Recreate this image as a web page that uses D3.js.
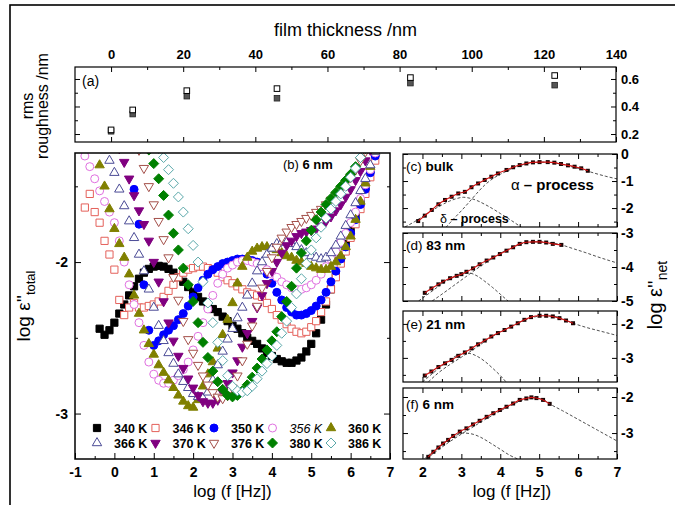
<!DOCTYPE html>
<html>
<head>
<meta charset="utf-8">
<script src="https://cdn.jsdelivr.net/npm/d3@7/dist/d3.min.js"></script>
<style>
html,body{margin:0;padding:0;background:#fff;}
svg{display:block;}
</style>
</head>
<body>
<svg id="chart" width="675" height="505"></svg>
<script>
// ================= DATA =================
// (a) rms roughness vs film thickness
const thicknessNm     = [0, 6, 21, 46, 83, 123];
const roughnessOpen   = [0.23, 0.375, 0.515, 0.53, 0.61, 0.625];
const roughnessFilled = [0.22, 0.345, 0.475, 0.46, 0.57, 0.555];
const thicknessTicks  = [0, 20, 40, 60, 80, 100, 120, 140];
const roughnessTicks  = [0.2, 0.4, 0.6];

// (b) log eps''_total vs log f, 6 nm film (series aligned to the END of logFreq)
const logFreq = [-0.75,-0.625,-0.5,-0.375,-0.25,-0.125,0,0.125,0.25,0.375,0.5,0.625,0.75,0.875,1,1.125,1.25,1.375,1.5,1.625,1.75,1.875,2,2.125,2.25,2.375,2.5,2.625,2.75,2.875,3,3.125,3.25,3.375,3.5,3.625,3.75,3.875,4,4.125,4.25,4.375,4.5,4.625,4.75,4.875,5,5.125,5.25,5.375,5.5,5.625,5.75,5.875,6,6.125,6.25,6.375,6.5,6.625];
const tempLabels = ["340 K","346 K","350 K","356 K","360 K","366 K","370 K","376 K","380 K","386 K"];
const eps340 = [-2.44,-2.48,-2.45,-2.40,-2.34,-2.28,-2.22,-2.16,-2.11,-2.07,-2.045,-2.03,-2.025,-2.03,-2.045,-2.07,-2.10,-2.13,-2.165,-2.20,-2.23,-2.26,-2.29,-2.31,-2.33,-2.36,-2.39,-2.42,-2.44,-2.47,-2.50,-2.52,-2.54,-2.57,-2.60,-2.62,-2.64,-2.655,-2.665,-2.665,-2.65,-2.63,-2.59,-2.54,-2.47,-2.38,-2.28,-2.18,-2.08,-1.98,-1.88,-1.79,-1.70,-1.60,-1.50,-1.39,-1.28];
const eps346 = [-1.64,-1.55,-1.67,-1.74,-1.86,-1.95,-2.05,-2.25,-2.35,-2.30,-2.27,-2.30,-2.30,-2.29,-2.28,-2.26,-2.23,-2.19,-2.15,-2.10,-2.07,-2.05,-2.04,-2.03,-2.03,-2.04,-2.05,-2.07,-2.10,-2.12,-2.14,-2.16,-2.18,-2.20,-2.21,-2.22,-2.23,-2.27,-2.31,-2.35,-2.38,-2.41,-2.44,-2.46,-2.47,-2.46,-2.43,-2.39,-2.33,-2.26,-2.18,-2.10,-2.01,-1.93,-1.84,-1.75,-1.65,-1.55,-1.44,-1.33];
const eps350 = [-1.52,-1.75,-2.15,-2.45,-2.55,-2.52,-2.48,-2.45,-2.42,-2.38,-2.34,-2.29,-2.23,-2.17,-2.12,-2.08,-2.05,-2.03,-2.01,-2.00,-1.99,-1.98,-1.98,-1.98,-1.99,-2.00,-2.03,-2.08,-2.14,-2.20,-2.25,-2.30,-2.33,-2.35,-2.35,-2.34,-2.32,-2.29,-2.25,-2.20,-2.13,-2.06,-1.98,-1.90,-1.81,-1.72,-1.62,-1.52,-1.41,-1.30];
const eps356 = [-1.30,-1.37,-1.45,-1.53,-1.60,-1.67,-1.74,-1.86,-2.00,-2.15,-2.28,-2.40,-2.55,-2.66,-2.74,-2.78,-2.80,-2.80,-2.78,-2.75,-2.71,-2.66,-2.58,-2.49,-2.40,-2.31,-2.22,-2.14,-2.08,-2.04,-2.02,-2.00,-1.99,-1.99,-2.00,-2.01,-2.03,-2.05,-2.08,-2.10,-2.13,-2.15,-2.17,-2.18,-2.18,-2.17,-2.15,-2.12,-2.08,-2.03,-1.98,-1.93,-1.87,-1.81,-1.74,-1.67,-1.58,-1.49,-1.39,-1.28];
const eps360 = [-1.25,-1.36,-1.50,-1.65,-1.78,-1.88,-1.97,-2.08,-2.22,-2.34,-2.45,-2.54,-2.61,-2.68,-2.73,-2.78,-2.83,-2.88,-2.92,-2.95,-2.96,-2.91,-2.82,-2.74,-2.66,-2.57,-2.48,-2.38,-2.27,-2.14,-2.03,-1.97,-1.93,-1.91,-1.90,-1.90,-1.91,-1.92,-1.94,-1.96,-1.97,-1.99,-2.00,-2.01,-2.03,-2.04,-2.05,-2.05,-2.03,-2.00,-1.96,-1.90,-1.83,-1.72,-1.60,-1.48,-1.37,-1.27];
const eps366 = [-1.26,-1.33,-1.41,-1.52,-1.63,-1.73,-1.84,-1.95,-2.06,-2.18,-2.30,-2.42,-2.52,-2.60,-2.67,-2.74,-2.79,-2.83,-2.87,-2.89,-2.90,-2.86,-2.78,-2.68,-2.59,-2.51,-2.44,-2.37,-2.30,-2.22,-2.14,-2.06,-2.00,-1.95,-1.91,-1.88,-1.87,-1.87,-1.88,-1.90,-1.92,-1.94,-1.96,-1.97,-1.98,-1.97,-1.94,-1.89,-1.83,-1.76,-1.69,-1.61,-1.53,-1.45,-1.36,-1.27];
const eps370 = [-1.25,-1.34,-1.45,-1.56,-1.66,-1.75,-1.86,-2.00,-2.13,-2.26,-2.40,-2.52,-2.62,-2.70,-2.77,-2.83,-2.88,-2.92,-2.93,-2.93,-2.91,-2.86,-2.80,-2.73,-2.65,-2.56,-2.47,-2.39,-2.30,-2.22,-2.14,-2.06,-2.00,-1.94,-1.89,-1.86,-1.83,-1.81,-1.80,-1.79,-1.78,-1.76,-1.73,-1.70,-1.66,-1.62,-1.57,-1.52,-1.46,-1.40,-1.33,-1.26,-1.19];
const eps376 = [-1.18,-1.26,-1.38,-1.50,-1.62,-1.73,-1.85,-1.97,-2.10,-2.25,-2.39,-2.51,-2.60,-2.68,-2.75,-2.81,-2.86,-2.89,-2.90,-2.88,-2.83,-2.75,-2.65,-2.54,-2.42,-2.29,-2.17,-2.06,-1.97,-1.90,-1.84,-1.80,-1.77,-1.75,-1.73,-1.71,-1.69,-1.67,-1.65,-1.62,-1.59,-1.56,-1.52,-1.48,-1.44,-1.39,-1.33,-1.27,-1.21,-1.15];
const eps380 = [-1.26,-1.35,-1.45,-1.56,-1.69,-1.81,-1.92,-2.04,-2.15,-2.26,-2.40,-2.53,-2.63,-2.72,-2.79,-2.84,-2.88,-2.89,-2.88,-2.85,-2.81,-2.76,-2.70,-2.64,-2.58,-2.52,-2.46,-2.36,-2.26,-2.16,-2.04,-1.94,-1.86,-1.79,-1.72,-1.67,-1.62,-1.58,-1.54,-1.50,-1.46,-1.42,-1.37,-1.31,-1.25,-1.19,-1.13];
const eps386 = [-1.25,-1.31,-1.39,-1.48,-1.57,-1.67,-1.78,-1.89,-2.00,-2.13,-2.27,-2.40,-2.53,-2.65,-2.75,-2.82,-2.85,-2.86,-2.85,-2.82,-2.77,-2.72,-2.67,-2.62,-2.55,-2.47,-2.39,-2.30,-2.21,-2.11,-2.01,-1.92,-1.84,-1.77,-1.71,-1.65,-1.60,-1.55,-1.50,-1.44,-1.38,-1.31,-1.24,-1.18,-1.12];
const mainXTicks = [-1, 0, 1, 2, 3, 4, 5, 6, 7];
const mainYTicks = [-2, -3];

// (c)-(f) log eps''_net : data, delta-process and alpha-process components
const cLogf  = [1.89,2.06,2.24,2.41,2.58,2.75,2.92,3.09,3.26,3.43,3.6,3.77,3.94,4.16,4.33,4.5,4.67,4.84,5.01,5.22,5.39,5.56,5.74,5.91,6.08,6.25];
const cNet   = [-2.48,-2.28,-2.07,-1.86,-1.7,-1.58,-1.46,-1.4,-1.23,-1.09,-0.96,-0.84,-0.72,-0.59,-0.49,-0.41,-0.35,-0.31,-0.3,-0.3,-0.32,-0.37,-0.42,-0.47,-0.53,-0.62];
const cDeltaX = [1.55,1.8,2.1,2.4,2.7,2.9,3.05,3.2,3.4,3.6,3.8,4.0,4.2,4.4,4.55];
const cDeltaY = [-2.7,-2.5,-2.22,-1.96,-1.74,-1.64,-1.6,-1.63,-1.72,-1.86,-2.02,-2.2,-2.38,-2.57,-2.72];
const cAlphaX = [2.6,2.8,3.0,3.2,3.4,3.6,3.8,4.0,4.3,4.6,4.9,5.2,5.5,5.8,6.1,6.4,6.7,7.0];
const cAlphaY = [-2.72,-2.4,-2.1,-1.78,-1.45,-1.15,-0.92,-0.75,-0.55,-0.39,-0.31,-0.3,-0.36,-0.46,-0.57,-0.7,-0.82,-0.92];

const dLogf  = [2.06,2.23,2.41,2.53,2.71,2.88,3.0,3.13,3.3,3.47,3.65,3.82,3.99,4.16,4.33,4.5,4.67,4.84,5.01,5.18,5.35,5.57];
const dNet   = [-4.76,-4.63,-4.51,-4.43,-4.33,-4.26,-4.21,-4.14,-4.04,-3.92,-3.81,-3.72,-3.62,-3.52,-3.42,-3.32,-3.27,-3.26,-3.26,-3.28,-3.32,-3.35];
const dDeltaX = [1.9,2.2,2.5,2.8,3.0,3.2,3.4,3.6,3.8,4.0,4.2];
const dDeltaY = [-5.0,-4.75,-4.5,-4.3,-4.21,-4.18,-4.26,-4.42,-4.6,-4.8,-5.0];
const dAlphaX = [2.25,2.5,2.8,3.1,3.4,3.7,4.0,4.3,4.6,4.9,5.2,5.57,5.9,6.2,6.5,6.8,7.0];
const dAlphaY = [-5.0,-4.8,-4.55,-4.3,-4.05,-3.82,-3.6,-3.43,-3.3,-3.26,-3.27,-3.35,-3.47,-3.58,-3.7,-3.81,-3.88];

const eLogf  = [2.06,2.23,2.41,2.58,2.75,2.92,3.09,3.26,3.43,3.6,3.77,3.94,4.11,4.28,4.45,4.62,4.79,5.01,5.18,5.35,5.52,5.69,5.87];
const eNet   = [-3.52,-3.4,-3.27,-3.16,-3.06,-2.94,-2.84,-2.72,-2.6,-2.49,-2.37,-2.27,-2.18,-2.08,-1.98,-1.88,-1.8,-1.76,-1.76,-1.78,-1.83,-1.9,-1.98];
const eDeltaX = [2.0,2.3,2.6,2.85,3.05,3.2,3.4,3.6,3.8,4.0,4.15];
const eDeltaY = [-3.71,-3.42,-3.14,-2.95,-2.87,-2.87,-2.95,-3.1,-3.3,-3.52,-3.71];
const eAlphaX = [2.15,2.4,2.7,3.0,3.3,3.6,3.9,4.2,4.5,4.8,5.1,5.4,5.87,6.2,6.6,7.0];
const eAlphaY = [-3.71,-3.45,-3.2,-2.98,-2.76,-2.52,-2.3,-2.12,-1.95,-1.82,-1.76,-1.78,-1.98,-2.1,-2.22,-2.34];

const fLogf  = [2.15,2.28,2.41,2.53,2.66,2.79,2.96,3.13,3.3,3.47,3.65,3.82,3.99,4.16,4.33,4.5,4.67,4.8,4.93,5.1,5.27];
const fNet   = [-3.66,-3.52,-3.4,-3.29,-3.19,-3.08,-2.96,-2.87,-2.76,-2.66,-2.55,-2.45,-2.36,-2.27,-2.18,-2.08,-2.04,-2.01,-2.03,-2.08,-2.19];
const fDeltaX = [2.05,2.3,2.6,2.85,3.05,3.25,3.5,3.75,4.0,4.25,4.45];
const fDeltaY = [-3.72,-3.48,-3.24,-3.07,-3.0,-3.02,-3.12,-3.28,-3.45,-3.62,-3.72];
const fAlphaX = [2.1,2.4,2.7,3.0,3.3,3.6,3.9,4.2,4.5,4.8,5.1,5.27,5.6,5.9,6.2,6.5,6.8,7.0];
const fAlphaY = [-3.72,-3.47,-3.24,-3.03,-2.83,-2.63,-2.45,-2.27,-2.12,-2.02,-2.07,-2.19,-2.38,-2.56,-2.74,-2.92,-3.1,-3.22];
const netXTicks = [2, 3, 4, 5, 6, 7];

// ================= DRAWING =================
const FONT = "'Liberation Sans', Arial, Helvetica, sans-serif";
const svg = d3.select("#chart");
svg.append("rect").attr("width", 675).attr("height", 505).attr("fill", "#fff");
svg.append("rect").attr("x", 10).attr("y", 5).attr("width", 700).attr("height", 540)
  .attr("fill", "none").attr("stroke", "#000").attr("stroke-width", 1.6);

function addAxis(orient, scale, pos, values, size, showLabels, fmt, pad, fs) {
  const make = {bottom: d3.axisBottom, top: d3.axisTop, left: d3.axisLeft, right: d3.axisRight}[orient];
  const gen = make(scale).tickValues(values).tickSizeInner(-size).tickSizeOuter(0)
    .tickPadding(pad || 5).tickFormat(showLabels ? fmt : () => "");
  const g = svg.append("g")
    .attr("transform", (orient === "bottom" || orient === "top") ? `translate(0,${pos})` : `translate(${pos},0)`)
    .call(gen);
  g.select(".domain").remove();
  g.selectAll(".tick line").attr("stroke", "#000").attr("stroke-width", 1);
  g.selectAll(".tick text").attr("font-family", FONT).attr("font-size", fs || 14)
    .attr("font-weight", "bold").attr("fill", "#000");
  return g;
}
function box(x0, y0, x1, y1, w) {
  svg.append("rect").attr("x", x0).attr("y", y0).attr("width", x1 - x0).attr("height", y1 - y0)
    .attr("fill", "none").attr("stroke", "#000").attr("stroke-width", w || 1.2);
}
function clip(id, x0, y0, x1, y1) {
  svg.append("clipPath").attr("id", id).append("rect")
    .attr("x", x0).attr("y", y0).attr("width", x1 - x0).attr("height", y1 - y0);
  return "url(#" + id + ")";
}
const fmtPlain = d => String(d);

// ---------- panel (a) ----------
const A = {x0: 75, x1: 616, y0: 67, y1: 142};
const xA = d3.scaleLinear().domain([-10, 140]).range([A.x0, A.x1]);
const yA = d3.scaleLinear().domain([0.142, 0.687]).range([A.y1, A.y0]);
const minorThick = d3.range(10, 140, 20);
addAxis("top", xA, A.y0, thicknessTicks, 5, true, fmtPlain, 8, 13);
addAxis("top", xA, A.y0, minorThick, 3, false);
addAxis("bottom", xA, A.y1, thicknessTicks, 5, false);
addAxis("bottom", xA, A.y1, minorThick, 3, false);
addAxis("left", yA, A.x0, roughnessTicks, 5, false);
addAxis("left", yA, A.x0, [0.3, 0.5], 3, false);
addAxis("right", yA, A.x1, roughnessTicks, 5, true, d3.format(".1f"), 5, 13);
addAxis("right", yA, A.x1, [0.3, 0.5], 3, false);
svg.append("g").selectAll("rect").data(thicknessNm.map((t, i) => [t, roughnessFilled[i]])).join("rect")
  .attr("x", d => xA(d[0]) - 2.8).attr("y", d => yA(d[1]) - 2.8).attr("width", 5.6).attr("height", 5.6)
  .attr("fill", "#555").attr("stroke", "#222").attr("stroke-width", 0.8);
svg.append("g").selectAll("rect").data(thicknessNm.map((t, i) => [t, roughnessOpen[i]])).join("rect")
  .attr("x", d => xA(d[0]) - 2.8).attr("y", d => yA(d[1]) - 2.8).attr("width", 5.6).attr("height", 5.6)
  .attr("fill", "#fff").attr("stroke", "#000").attr("stroke-width", 1);
box(A.x0, A.y0, A.x1, A.y1, 1.2);
svg.append("text").attr("x", 82).attr("y", 86).attr("font-family", FONT).attr("font-size", 14).text("(a)");
svg.append("text").attr("x", (A.x0 + A.x1) / 2).attr("y", 36).attr("text-anchor", "middle")
  .attr("font-family", FONT).attr("font-size", 18).text("film thickness /nm");
svg.append("text").attr("transform", "translate(33,106) rotate(-90)").attr("text-anchor", "middle")
  .attr("font-family", FONT).attr("font-size", 16).text("rms");
svg.append("text").attr("transform", "translate(48,106) rotate(-90)").attr("text-anchor", "middle")
  .attr("font-family", FONT).attr("font-size", 16).text("roughness /nm");

// ---------- panel (b) ----------
const B = {x0: 75, x1: 390, y0: 153, y1: 459};
const xB = d3.scaleLinear().domain([-1, 7]).range([B.x0, B.x1]);
const yB = d3.scaleLinear().domain([-3.3, -1.28]).range([B.y1, B.y0]);
const mainSeries = [eps340, eps346, eps350, eps356, eps360, eps366, eps370, eps376, eps380, eps386];
const styles = [
  {sym: "square",  fill: "#000000", stroke: "#000000"},
  {sym: "square",  fill: "#ffffff", stroke: "#e4605a"},
  {sym: "circle",  fill: "#0000ff", stroke: "#0000ff"},
  {sym: "circle",  fill: "#ffffff", stroke: "#e070e0"},
  {sym: "triUp",   fill: "#808000", stroke: "#808000"},
  {sym: "triUp",   fill: "#ffffff", stroke: "#4b4b96"},
  {sym: "triDown", fill: "#800080", stroke: "#800080"},
  {sym: "triDown", fill: "#ffffff", stroke: "#a4504a"},
  {sym: "diamond", fill: "#008000", stroke: "#008000"},
  {sym: "diamond", fill: "#ffffff", stroke: "#5aa8aa"}
];
function symPath(t) {
  switch (t) {
    case "square":  return "M-3.6,-3.6h7.2v7.2h-7.2Z";
    case "circle":  return "M4,0A4,4 0 1,1 -4,0A4,4 0 1,1 4,0Z";
    case "triUp":   return "M0,-5.4L4.7,2.7L-4.7,2.7Z";
    case "triDown": return "M0,5.4L4.7,-2.7L-4.7,-2.7Z";
    case "diamond": return "M0,-5L5,0L0,5L-5,0Z";
  }
}
const clipB = clip("clipB", B.x0, B.y0, B.x1, B.y1);
const gB = svg.append("g").attr("clip-path", clipB);
mainSeries.forEach((vals, i) => {
  const off = logFreq.length - vals.length;
  const pts = vals.map((v, j) => [logFreq[off + j], v]);
  const st = styles[i];
  gB.append("g").selectAll("path").data(pts).join("path")
    .attr("d", symPath(st.sym))
    .attr("transform", d => `translate(${xB(d[0])},${yB(d[1])})`)
    .attr("fill", st.fill).attr("stroke", st.stroke).attr("stroke-width", 1);
});
addAxis("bottom", xB, B.y1, mainXTicks, 6, true, fmtPlain, 8, 14);
addAxis("bottom", xB, B.y1, d3.range(-0.5, 7, 1), 3, false);
addAxis("left", yB, B.x0, mainYTicks, 6, true, fmtPlain, 7, 14);
addAxis("left", yB, B.x0, [-1.5, -2.5], 3, false);
addAxis("right", yB, B.x1, mainYTicks, 6, false);
addAxis("right", yB, B.x1, [-1.5, -2.5], 3, false);
box(B.x0, B.y0, B.x1, B.y1, 1.5);
// legend
const legG = svg.append("g");
tempLabels.forEach((lab, i) => {
  const col = i % 5, row = Math.floor(i / 5);
  const sx = 97 + col * 58.5, sy = 428 + row * 15;
  legG.append("path").attr("d", symPath(styles[i].sym)).attr("transform", `translate(${sx},${sy})`)
    .attr("fill", styles[i].fill).attr("stroke", styles[i].stroke).attr("stroke-width", 1);
  legG.append("text").attr("x", sx + 17).attr("y", sy + 4.5).attr("font-family", FONT).attr("font-size", 12.5)
    .attr("font-weight", lab === "356 K" ? "normal" : "bold").attr("font-style", lab === "356 K" ? "italic" : "normal")
    .text(lab);
});
const tb = svg.append("text").attr("x", 283).attr("y", 169).attr("font-family", FONT).attr("font-size", 13);
tb.append("tspan").text("(b) ");
tb.append("tspan").attr("font-weight", "bold").text("6 nm");
svg.append("text").attr("x", (B.x0 + B.x1) / 2).attr("y", 497).attr("text-anchor", "middle")
  .attr("font-family", FONT).attr("font-size", 17).text("log (f [Hz])");
const yl = svg.append("text").attr("transform", `translate(30,${(B.y0 + B.y1) / 2}) rotate(-90)`)
  .attr("text-anchor", "middle").attr("font-family", FONT).attr("font-size", 19);
yl.append("tspan").text("log ε''");
yl.append("tspan").attr("font-size", 13).attr("dy", 5).text("total");

// ---------- panels (c)-(f) ----------
const xR = d3.scaleLinear().domain([1.5, 7]).range([403, 617]);
const panels = [
  {id: "c", y0: 154, y1: 227, dom: [-2.7, 0],     major: [0, -1, -2],  minor: [-0.5, -1.5, -2.5], lx: cLogf, ly: cNet, dx: cDeltaX, dy: cDeltaY, ax: cAlphaX, ay: cAlphaY, label: ["(c) ", "bulk"], lyPos: 171},
  {id: "d", y0: 233, y1: 301, dom: [-5, -3],      major: [-3, -4, -5], minor: [-3.5, -4.5],       lx: dLogf, ly: dNet, dx: dDeltaX, dy: dDeltaY, ax: dAlphaX, ay: dAlphaY, label: ["(d) ", "83 nm"], lyPos: 250},
  {id: "e", y0: 311, y1: 382, dom: [-3.71, -1.62], major: [-2, -3],    minor: [-2.5, -3.5],       lx: eLogf, ly: eNet, dx: eDeltaX, dy: eDeltaY, ax: eAlphaX, ay: eAlphaY, label: ["(e) ", "21 nm"], lyPos: 329},
  {id: "f", y0: 388, y1: 459, dom: [-3.72, -1.75], major: [-2, -3],    minor: [-2.5, -3.5],       lx: fLogf, ly: fNet, dx: fDeltaX, dy: fDeltaY, ax: fAlphaX, ay: fAlphaY, label: ["(f) ", "6 nm"], lyPos: 409}
];
const xMinorR = [2.5, 3.5, 4.5, 5.5, 6.5];
panels.forEach(p => {
  const y = d3.scaleLinear().domain(p.dom).range([p.y1, p.y0]);
  const cp = clip("clip" + p.id, 403, p.y0, 617, p.y1);
  const g = svg.append("g").attr("clip-path", cp);
  const line = d3.line().x(d => xR(d[0])).y(d => y(d[1])).curve(d3.curveMonotoneX);
  g.append("path").attr("d", line(p.dx.map((v, i) => [v, p.dy[i]])))
    .attr("fill", "none").attr("stroke", "#222").attr("stroke-width", 0.8).attr("stroke-dasharray", "3,2");
  g.append("path").attr("d", line(p.ax.map((v, i) => [v, p.ay[i]])))
    .attr("fill", "none").attr("stroke", "#222").attr("stroke-width", 0.8).attr("stroke-dasharray", "3,2");
  const pts = p.lx.map((v, i) => [v, p.ly[i]]);
  g.append("g").selectAll("rect").data(pts).join("rect")
    .attr("x", d => xR(d[0]) - 2).attr("y", d => y(d[1]) - 2).attr("width", 4).attr("height", 4)
    .attr("fill", "#1a0505");
  g.append("path").attr("d", line(pts)).attr("fill", "none").attr("stroke", "#d01010").attr("stroke-width", 1.1);
  const isF = p.id === "f";
  addAxis("bottom", xR, p.y1, netXTicks, 5, isF, fmtPlain, 8, 14);
  addAxis("bottom", xR, p.y1, xMinorR, 3, false);
  addAxis("top", xR, p.y0, netXTicks, 5, false);
  addAxis("top", xR, p.y0, xMinorR, 3, false);
  addAxis("left", y, 403, p.major, 5, false);
  addAxis("left", y, 403, p.minor, 3, false);
  addAxis("right", y, 617, p.major, 5, true, fmtPlain, 4, 14);
  addAxis("right", y, 617, p.minor, 3, false);
  box(403, p.y0, 617, p.y1, 1.2);
  const t = svg.append("text").attr("x", 406).attr("y", p.lyPos).attr("font-family", FONT).attr("font-size", 13.5);
  t.append("tspan").text(p.label[0]);
  t.append("tspan").attr("font-weight", "bold").text(p.label[1]);
});
const ta = svg.append("text").attr("x", 511).attr("y", 190).attr("font-family", FONT).attr("font-size", 15);
ta.append("tspan").text("α");
ta.append("tspan").attr("font-weight", "bold").text(" – process");
const td = svg.append("text").attr("x", 440).attr("y", 223).attr("font-family", FONT).attr("font-size", 12.5);
td.append("tspan").text("δ");
td.append("tspan").attr("font-weight", "bold").text(" – process");
svg.append("text").attr("x", 512).attr("y", 497).attr("text-anchor", "middle")
  .attr("font-family", FONT).attr("font-size", 17).text("log (f [Hz])");
const yr = svg.append("text").attr("transform", "translate(662,295) rotate(-90)")
  .attr("text-anchor", "middle").attr("font-family", FONT).attr("font-size", 20);
yr.append("tspan").text("log ε''");
yr.append("tspan").attr("font-size", 14).attr("dy", 5).text("net");
</script>
</body>
</html>
